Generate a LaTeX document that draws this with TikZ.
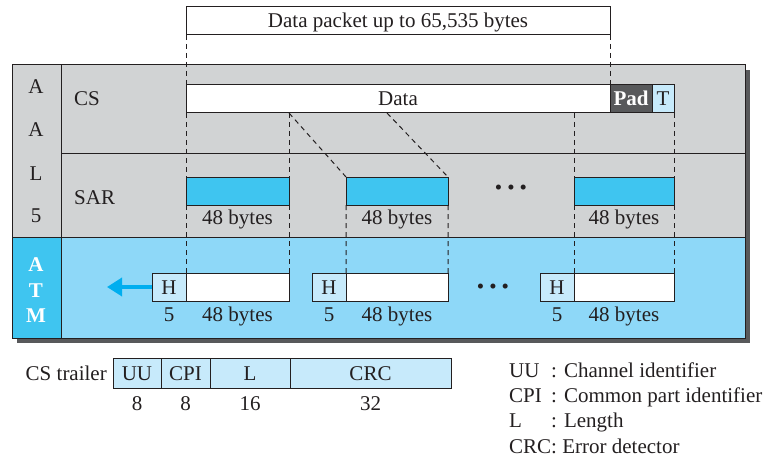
\documentclass[tikz,border=0pt]{standalone}
\usepackage{fontspec}
\setmainfont{Liberation Serif}
\usepackage{xcolor}
\usetikzlibrary{arrows.meta,positioning}
\definecolor{AalGray}{HTML}{D1D3D4}
\definecolor{AtmPale}{HTML}{8ED8F8}
\definecolor{AtmBlue}{HTML}{3FC5F0}
\definecolor{CellPale}{HTML}{C7EAFB}
\definecolor{PadGray}{HTML}{58595B}
\definecolor{ShadeGray}{HTML}{58595B}
\definecolor{ArrowBlue}{HTML}{00AEEF}
\definecolor{LineDark}{HTML}{231F20}
\newcommand{\figfont}{\fontsize{21}{25}\selectfont}
\tikzset{
  field/.style={draw=LineDark,line width=1pt,inner sep=0pt,outer sep=0pt,minimum height=28pt,text height=14pt,text depth=0pt,anchor=west,text=LineDark},
  datafield/.style={field,fill=white},
  segfield/.style={field,fill=AtmBlue},
  hdrfield/.style={field,fill=CellPale,minimum width=34pt},
  padfield/.style={field,fill=PadGray,text=white,font=\figfont\bfseries},
  trailfield/.style={field,fill=CellPale,minimum height=30pt},
  sizelabel/.style={anchor=base,text=LineDark,inner sep=0pt},
  layerletter/.style={anchor=base,text=LineDark,inner sep=0pt},
  atmletter/.style={anchor=base,text=white,inner sep=0pt,font=\figfont\bfseries},
  cut/.style={draw=LineDark,line width=1pt,dash pattern=on 5pt off 4pt},
  sendarrow/.style={-{Triangle[length=15pt,width=18pt]},line width=3.5pt,draw=ArrowBlue}
}
\begin{document}
\begin{tikzpicture}[x=1pt,y=-1pt,font=\figfont]
  \useasboundingbox (0,0) rectangle (767,457);
  % layer frame
  \fill[ShadeGray] (17,70) rectangle (750,343);
  \fill[AalGray] (12,65) rectangle (745,237);
  \fill[AtmPale] (12,237) rectangle (745,338);
  \fill[AtmBlue] (12,237) rectangle (61,338);
  \draw[LineDark,line width=1pt] (12,65) rectangle (745,338);
  \draw[LineDark,line width=1pt] (61,65) -- (61,338) (61,154) -- (745,154) (12,237) -- (745,237);
  \node[layerletter] (aalA) at (36,94) {A};
  \node[layerletter] (aalAA) at (36,137) {A};
  \node[layerletter] (aalL) at (36,180) {L};
  \node[layerletter] (aalFive) at (36,222) {5};
  \node[atmletter] (atmA) at (36,271) {A};
  \node[atmletter] (atmT) at (36,297) {T};
  \node[atmletter] (atmM) at (36,322) {M};
  \node[layerletter,anchor=base west] (cslabel) at (74,106) {CS};
  \node[layerletter,anchor=base west] (sarlabel) at (74,204) {SAR};
  % packet and CS
  \node[datafield,minimum width=424pt] (packet) at (186,21) {Data packet up to 65,535 bytes};
  \node[datafield,minimum width=424pt] (data) at (186,99) {Data};
  \node[padfield,minimum width=42pt,right=0pt of data] (pad) {Pad};
  \node[field,fill=CellPale,minimum width=22pt,right=0pt of pad] (trl) {T};
  % SAR
  \node[segfield,minimum width=103pt] (seg1) at (186,191) {};
  \node[segfield,minimum width=102pt] (seg2) at (346,191) {};
  \node[segfield,minimum width=100pt] (seg3) at (574,191) {};
  \node[sizelabel] at ([yshift=-19pt]seg1.south) {48 bytes};
  \node[sizelabel] at ([yshift=-19pt]seg2.south) {48 bytes};
  \node[sizelabel] at ([yshift=-19pt]seg3.south) {48 bytes};
  \node[text=LineDark] (gapSar) at (511,190) {\textbullet\hspace{5pt}\textbullet\hspace{5pt}\textbullet};
  % ATM cells
  \node[hdrfield] (h1) at (152,287) {H};
  \node[datafield,minimum width=103pt,right=0pt of h1] (d1) {};
  \node[hdrfield] (h2) at (312,287) {H};
  \node[datafield,minimum width=102pt,right=0pt of h2] (d2) {};
  \node[hdrfield] (h3) at (540,287) {H};
  \node[datafield,minimum width=100pt,right=0pt of h3] (d3) {};
  \node[sizelabel] at ([yshift=-20pt]h1.south) {5};
  \node[sizelabel] at ([yshift=-20pt]d1.south) {48 bytes};
  \node[sizelabel] at ([yshift=-20pt]h2.south) {5};
  \node[sizelabel] at ([yshift=-20pt]d2.south) {48 bytes};
  \node[sizelabel] at ([yshift=-20pt]h3.south) {5};
  \node[sizelabel] at ([yshift=-20pt]d3.south) {48 bytes};
  \node[text=LineDark] (gapAtm) at (493,289) {\textbullet\hspace{5pt}\textbullet\hspace{5pt}\textbullet};
  \coordinate (outAtm) at (107,287);
  \draw[sendarrow] (h1.west) -- (outAtm);
  % segmentation cuts
  \path (data.south west) ++(201,0) coordinate (cut2);
  \draw[cut] (packet.south west) -- (data.north west)
    (data.south west) -- (seg1.north west) (seg1.south west) -- (d1.north west);
  \draw[cut] (packet.south east) -- (data.north east);
  \draw[cut] (data.south -| seg1.east) -- (seg1.north east) (seg1.south east) -- (d1.north east);
  \draw[cut] (data.south -| seg1.east) -- (seg2.north west) (seg2.south west) -- (d2.north west);
  \draw[cut] (cut2) -- (seg2.north east) (seg2.south east) -- (d2.north east);
  \draw[cut] (data.south -| seg3.west) -- (seg3.north west) (seg3.south west) -- (d3.north west);
  \draw[cut] (trl.south east) -- (seg3.north east) (seg3.south east) -- (d3.north east);
  % CS trailer
  \node[trailfield,minimum width=48pt] (uu) at (113,373) {UU};
  \node[trailfield,minimum width=49pt,right=0pt of uu] (cpi) {CPI};
  \node[trailfield,minimum width=80pt,right=0pt of cpi] (len) {L};
  \node[trailfield,minimum width=161pt,right=0pt of len] (crc) {CRC};
  \node[layerletter,anchor=base east] (trailerlabel) at (107,380) {CS trailer};
  \node[sizelabel] at ([yshift=-22pt]uu.south) {8};
  \node[sizelabel] at ([yshift=-22pt]cpi.south) {8};
  \node[sizelabel] at ([yshift=-22pt]len.south) {16};
  \node[sizelabel] at ([yshift=-22pt]crc.south) {32};
  % legend
  \node[layerletter,anchor=base west] (keyUU) at (509,377) {UU};
  \node[layerletter,anchor=base west] at (551,377) {: Channel identifier};
  \node[layerletter,anchor=base west] (keyCPI) at (509,402) {CPI};
  \node[layerletter,anchor=base west] at (551,402) {: Common part identifier};
  \node[layerletter,anchor=base west] (keyL) at (509,427) {L};
  \node[layerletter,anchor=base west] at (551,427) {: Length};
  \node[layerletter,anchor=base west] (keyCRC) at (509,453) {CRC: Error detector};
\end{tikzpicture}
\end{document}
